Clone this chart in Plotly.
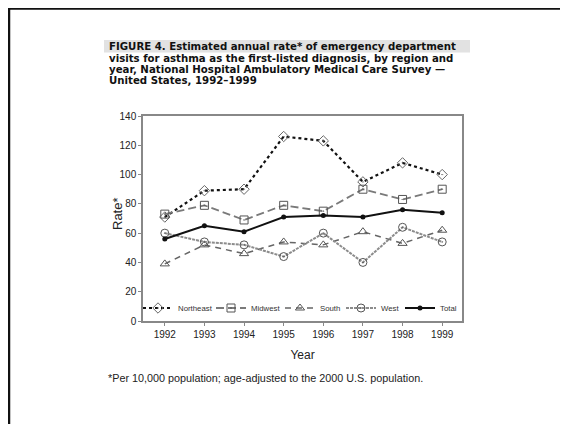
import plotly.graph_objects as go

years = [1992, 1993, 1994, 1995, 1996, 1997, 1998, 1999]
northeast = [71, 89, 90, 126, 123, 95, 108, 100]
midwest = [73, 79, 69, 79, 75, 90, 83, 90]
south = [39, 52, 46, 54, 52, 61, 53, 62]
west = [60, 54, 52, 44, 60, 40, 64, 54]
total = [56, 65, 61, 71, 72, 71, 76, 74]
y_ticks = [0, 20, 40, 60, 80, 100, 120, 140]

W, H = 568, 424
OFF = 8  # page body margin offset
L, R, T, B = 143 - OFF, 462 - OFF, 116 - OFF, 321 - OFF


def px(x):
    return (x - OFF - L) / (R - L)


def py(y):
    return (B - (y - OFF)) / (B - T)


FONT = "Liberation Sans, Arial, sans-serif"

fig = go.Figure()
fig.add_trace(go.Scatter(x=years, y=northeast, name="Northeast", mode="lines+markers", legend="legend",
                         line=dict(color="#111", width=2.2, dash="dot"),
                         marker=dict(symbol="diamond-open-dot", size=8, color="#666", line=dict(width=1))))
fig.add_trace(go.Scatter(x=years, y=midwest, name="Midwest", mode="lines+markers", legend="legend2",
                         line=dict(color="#7a7a7a", width=1.8, dash="8px,4px"),
                         marker=dict(symbol="square-open-dot", size=8, color="#555", line=dict(width=1))))
fig.add_trace(go.Scatter(x=years, y=south, name="South", mode="lines+markers", legend="legend3",
                         line=dict(color="#666", width=1.5, dash="6px,5px"),
                         marker=dict(symbol="triangle-up-open", size=8, color="#555", line=dict(width=1))))
fig.add_trace(go.Scatter(x=years, y=west, name="West", mode="lines+markers", legend="legend4",
                         line=dict(color="#8c8c8c", width=2, dash="3px,1px"),
                         marker=dict(symbol="circle-open-dot", size=8, color="#555", line=dict(width=1))))
fig.add_trace(go.Scatter(x=years, y=total, name="Total", mode="lines+markers", legend="legend5",
                         line=dict(color="#111", width=2),
                         marker=dict(symbol="circle", size=5, color="#111")))


def leg(x):
    return dict(orientation="h", x=px(x), y=py(308), xanchor="left", yanchor="middle",
                bgcolor="rgba(0,0,0,0)", font=dict(size=7.8, color="#333"),
                itemwidth=30, tracegroupgap=0)


fig.update_layout(
    width=W, height=H,
    margin=dict(l=L, r=W - R, t=T, b=H - B),
    paper_bgcolor="white", plot_bgcolor="white",
    font=dict(family=FONT, color="#222", size=10),
    showlegend=True,
    legend=leg(138), legend2=leg(211), legend3=leg(280), legend4=leg(341), legend5=leg(400),
    xaxis=dict(range=[1991.45, 1999.5], tickvals=years, ticktext=[str(y) for y in years],
               showgrid=False, zeroline=False, showline=True, mirror=True,
               linecolor="#888", linewidth=1.5, ticks="outside", ticklen=3, tickcolor="#888",
               tickfont=dict(size=10, color="#222"),
               title=dict(text="Year", font=dict(size=12, color="#222"), standoff=12)),
    yaxis=dict(range=[0, 140], tickvals=y_ticks, showgrid=False, zeroline=False,
               showline=True, mirror=True, linecolor="#888", linewidth=1.5,
               ticks="outside", ticklen=3, tickcolor="#888",
               tickfont=dict(size=10, color="#222")),
)

shapes = [
    # slide frame (left and top edges)
    dict(type="rect", xref="paper", yref="paper", x0=px(9), y0=py(440), x1=px(590), y1=py(8.5),
         line=dict(color="#111", width=2.5), fillcolor="rgba(0,0,0,0)", layer="below"),
    # highlight band behind first title line
    dict(type="rect", xref="paper", yref="paper", x0=px(104), y0=py(52.5), x1=px(470), y1=py(40),
         line=dict(width=0), fillcolor="#e2e2e2", layer="below"),
]
fig.update_layout(shapes=shapes)

title_lines = [
    "FIGURE 4. Estimated annual rate* of emergency department",
    "visits for asthma as the first-listed diagnosis, by region and",
    "year, National Hospital Ambulatory Medical Care Survey —",
    "United States, 1992–1999",
]
anns = []
for i, line in enumerate(title_lines):
    anns.append(dict(text="<b>" + line + "</b>", xref="paper", yref="paper",
                     x=px(108), y=py(47 + i * 11.3), xanchor="left", yanchor="middle",
                     showarrow=False, borderpad=0,
                     font=dict(size=10.2, color="#111", family="DejaVu Sans, sans-serif")))
anns.append(dict(text="*Per 10,000 population; age-adjusted to the 2000 U.S. population.",
                 xref="paper", yref="paper", x=px(106), y=py(378), xanchor="left", yanchor="middle",
                 showarrow=False, font=dict(size=10.8, color="#222", family=FONT)))
anns.append(dict(text="Rate*", xref="paper", yref="paper", x=px(117), y=py(214),
                 xanchor="center", yanchor="middle", textangle=-90, showarrow=False,
                 font=dict(size=13, color="#222", family=FONT)))
fig.update_layout(annotations=anns)

fig.write_html("out.html")
